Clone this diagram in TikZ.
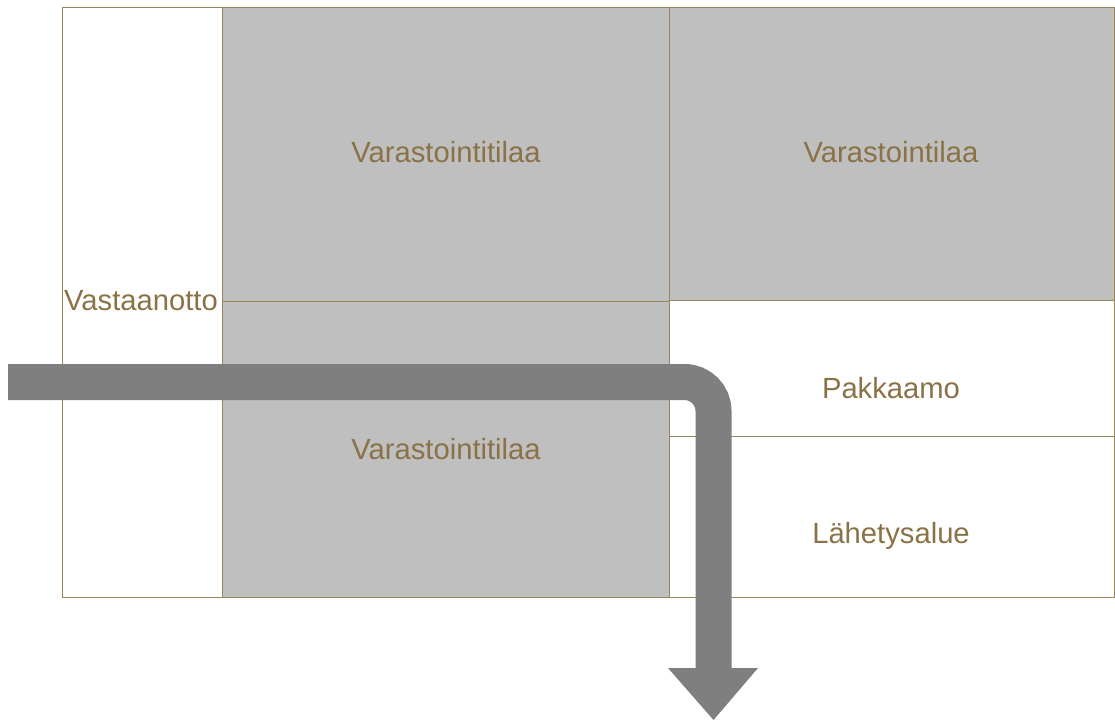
\documentclass[tikz,border=0pt]{standalone}
\usepackage{fontspec}
\setmainfont{Liberation Sans}
\definecolor{wall}{HTML}{9A845E}
\definecolor{label}{HTML}{8A7246}
\definecolor{store}{HTML}{BFBFBF}
\definecolor{flow}{HTML}{7F7F7F}
\begin{document}
\begin{tikzpicture}[x=1pt,y=-1pt,
  room/.style={draw=wall, line width=1pt},
  storeroom/.style={room, fill=store},
  lbl/.style={text=label, font=\fontsize{29.2}{31}\selectfont, anchor=base, inner sep=0pt}]
\useasboundingbox (0,0) rectangle (1115,722);
% floor plan
\draw[room] (62,8) rectangle (222,597);
\draw[storeroom] (222,8) rectangle (669,301);
\draw[storeroom] (222,301) rectangle (669,597);
\draw[storeroom] (669,8) rectangle (1114,300);
\draw[room] (669,300) rectangle (1114,436);
\draw[room] (669,436) rectangle (1114,597);
% room names
\node[lbl] (vast) at (141,310) {Vastaanotto};
\node[lbl] (vt1) at (446,163) {Varastointitilaa};
\node[lbl] (vt2) at (891,163) {Varastointilaa};
\node[lbl] (vt3) at (446,459) {Varastointitilaa};
\node[lbl] (pak) at (891,398) {Pakkaamo};
\node[lbl] (lah) at (891,543) {Lähetysalue};
% goods flow
\coordinate (in) at (8,382);
\coordinate (turn) at (713.5,382);
\coordinate (down) at (713.5,669);
\draw[flow, line width=36pt, rounded corners=29pt] (in) -- (turn) -- (down);
\fill[flow] (668,668) -- (758,668) -- (713.5,720) -- cycle;
\end{tikzpicture}
\end{document}
